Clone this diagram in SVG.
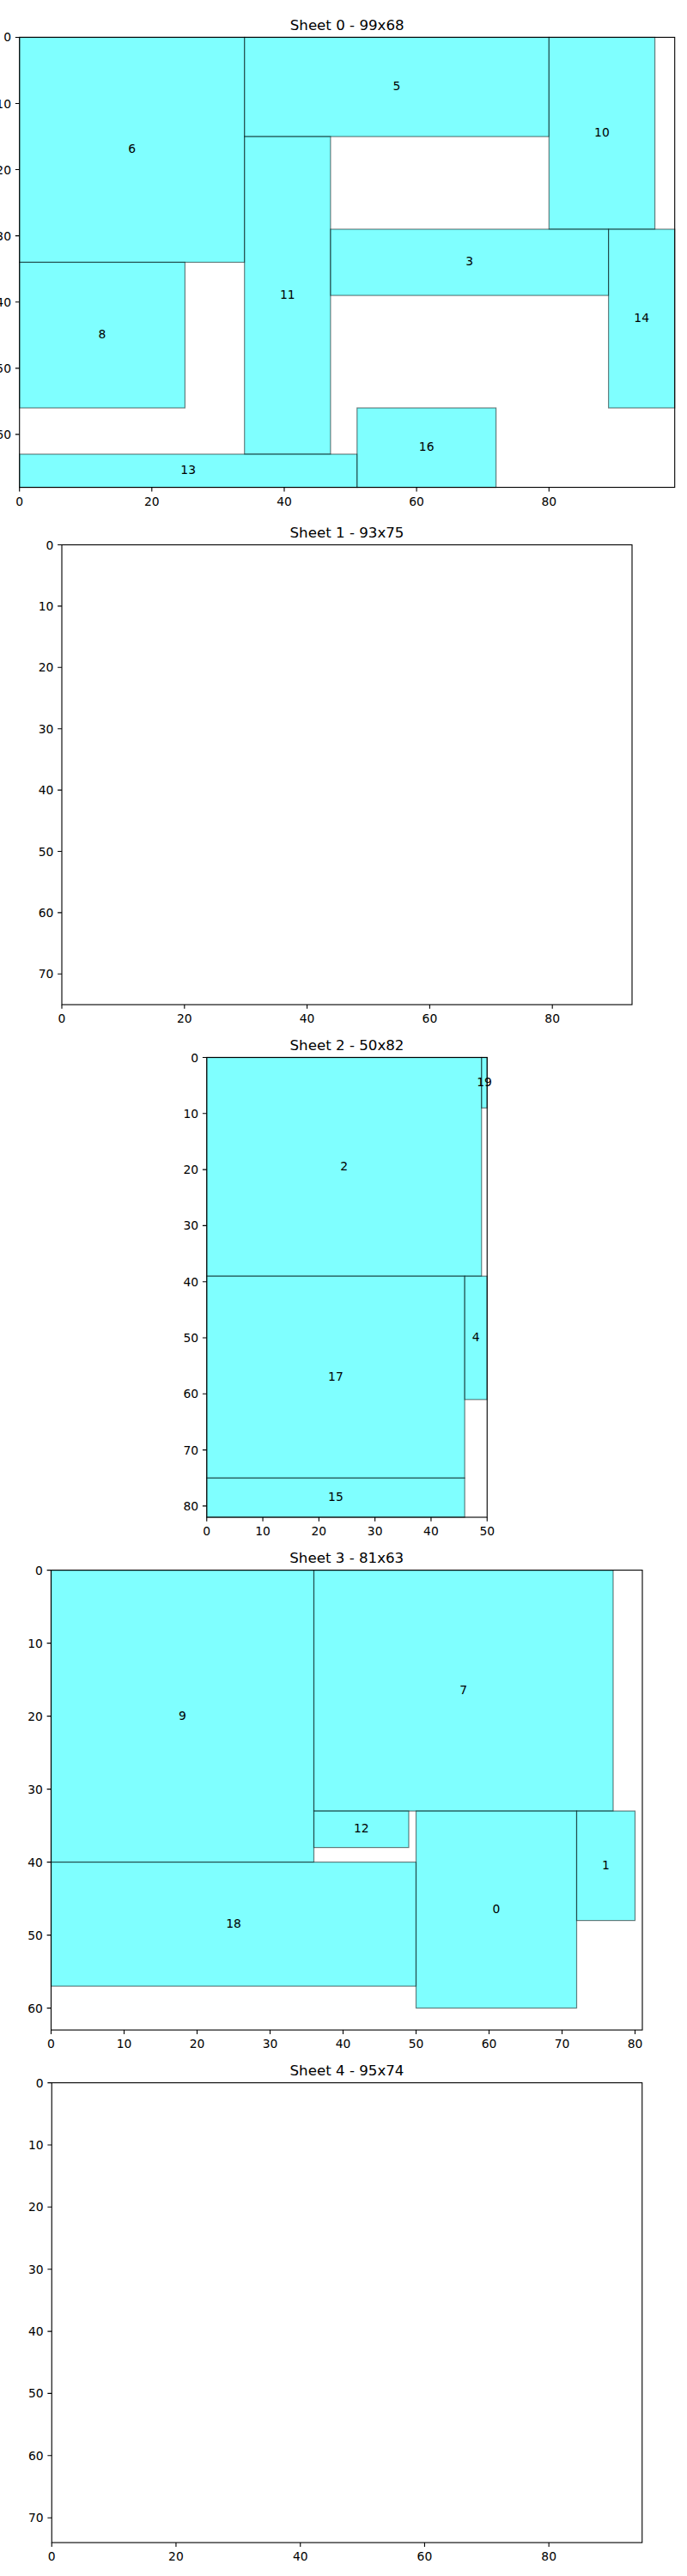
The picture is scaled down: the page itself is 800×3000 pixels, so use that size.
<svg xmlns="http://www.w3.org/2000/svg" width="800" height="3000" viewBox="0 0 800 3000">
<style>
text{font-family:"DejaVu Sans","Liberation Sans",sans-serif;fill:#000}
.t{font-size:16.67px;text-anchor:middle}
.xl{font-size:13.89px;text-anchor:middle}
.yl{font-size:13.89px;text-anchor:end}
.lb{font-size:13.89px;text-anchor:middle}
.r{fill:#00ffff;fill-opacity:0.5;stroke:#000;stroke-opacity:0.5;stroke-width:1.2}
.sp{fill:none;stroke:#000;stroke-width:1.11}
.tk{fill:none;stroke:#000;stroke-width:1.11}
</style>
<rect width="800" height="3000" fill="#fff"/>

<!-- Sheet 0 -->
<g id="sheet0" transform="translate(22.7,43.45)">
<text class="t" x="381.5" y="-8.3">Sheet 0 - 99x68</text>
<g id="p6"><rect class="r" x="0" y="0" width="262.0" height="262.0"/><text class="lb" x="131.0" y="135">6</text></g>
<g id="p5"><rect class="r" x="262.0" y="0" width="354.6" height="115.6"/><text class="lb" x="439.3" y="61.8">5</text></g>
<g id="p10"><rect class="r" x="616.6" y="0" width="123.3" height="223.5"/><text class="lb" x="678.2" y="115.8">10</text></g>
<g id="p11"><rect class="r" x="262.0" y="115.6" width="100.2" height="369.9"/><text class="lb" x="312.1" y="304.6">11</text></g>
<g id="p3"><rect class="r" x="362.2" y="223.5" width="323.7" height="77.1"/><text class="lb" x="524.1" y="266">3</text></g>
<g id="p14"><rect class="r" x="685.9" y="223.5" width="77.1" height="208.1"/><text class="lb" x="724.5" y="331.5">14</text></g>
<g id="p8"><rect class="r" x="0" y="262.0" width="192.7" height="169.6"/><text class="lb" x="96.3" y="350.8">8</text></g>
<g id="p13"><rect class="r" x="0" y="485.5" width="393.1" height="38.6"/><text class="lb" x="196.5" y="508.8">13</text></g>
<g id="p16"><rect class="r" x="393.1" y="431.6" width="161.8" height="92.5"/><text class="lb" x="474.0" y="481.8">16</text></g>
<rect class="sp" x="0" y="0" width="763.0" height="524.1"/>
<path class="tk" d="M0,524.1v4.86M154.1,524.1v4.86M308.3,524.1v4.86M462.4,524.1v4.86M616.6,524.1v4.86M0,0h-4.86M0,77.07h-4.86M0,154.1h-4.86M0,231.2h-4.86M0,308.3h-4.86M0,385.4h-4.86M0,462.4h-4.86"/>
<text class="xl" x="0" y="545.1">0</text><text class="xl" x="154.1" y="545.1">20</text><text class="xl" x="308.3" y="545.1">40</text><text class="xl" x="462.4" y="545.1">60</text><text class="xl" x="616.6" y="545.1">80</text>
<text class="yl" x="-9.7" y="5">0</text><text class="yl" x="-9.7" y="82.07">10</text><text class="yl" x="-9.7" y="159.1">20</text><text class="yl" x="-9.7" y="236.2">30</text><text class="yl" x="-9.7" y="313.3">40</text><text class="yl" x="-9.7" y="390.4">50</text><text class="yl" x="-9.7" y="467.4">60</text>
</g>

<!-- Sheet 1 -->
<g id="sheet1" transform="translate(72.0,634.5)">
<text class="t" x="332.0" y="-8.3">Sheet 1 - 93x75</text>
<rect class="sp" x="0" y="0" width="664.0" height="535.5"/>
<path class="tk" d="M0,535.5v4.86M142.8,535.5v4.86M285.6,535.5v4.86M428.4,535.5v4.86M571.2,535.5v4.86M0,0h-4.86M0,71.4h-4.86M0,142.8h-4.86M0,214.2h-4.86M0,285.6h-4.86M0,357h-4.86M0,428.4h-4.86M0,499.8h-4.86"/>
<text class="xl" x="0" y="556.5">0</text><text class="xl" x="142.8" y="556.5">20</text><text class="xl" x="285.6" y="556.5">40</text><text class="xl" x="428.4" y="556.5">60</text><text class="xl" x="571.2" y="556.5">80</text>
<text class="yl" x="-9.7" y="5">0</text><text class="yl" x="-9.7" y="76.4">10</text><text class="yl" x="-9.7" y="147.8">20</text><text class="yl" x="-9.7" y="219.2">30</text><text class="yl" x="-9.7" y="290.6">40</text><text class="yl" x="-9.7" y="362">50</text><text class="yl" x="-9.7" y="433.4">60</text><text class="yl" x="-9.7" y="504.8">70</text>
</g>

<!-- Sheet 2 -->
<g id="sheet2" transform="translate(240.75,1231.5)">
<text class="t" x="163.25" y="-8.3">Sheet 2 - 50x82</text>
<g id="p2"><rect class="r" x="0" y="0" width="320.0" height="254.7"/><text class="lb" x="160.0" y="131.3">2</text></g>
<g id="p19"><rect class="r" x="320.0" y="0" width="6.5" height="58.8"/><text class="lb" x="323.3" y="33.4">19</text></g>
<g id="p17"><rect class="r" x="0" y="254.7" width="300.4" height="235.1"/><text class="lb" x="150.2" y="376.2">17</text></g>
<g id="p4"><rect class="r" x="300.4" y="254.7" width="26.1" height="143.7"/><text class="lb" x="313.5" y="330.5">4</text></g>
<g id="p15"><rect class="r" x="0" y="489.8" width="300.4" height="45.7"/><text class="lb" x="150.2" y="516.6">15</text></g>
<rect class="sp" x="0" y="0" width="326.5" height="535.5"/>
<path class="tk" d="M0,535.5v4.86M65.3,535.5v4.86M130.6,535.5v4.86M195.9,535.5v4.86M261.2,535.5v4.86M326.5,535.5v4.86M0,0h-4.86M0,65.3h-4.86M0,130.6h-4.86M0,195.9h-4.86M0,261.2h-4.86M0,326.5h-4.86M0,391.8h-4.86M0,457.1h-4.86M0,522.4h-4.86"/>
<text class="xl" x="0" y="556.5">0</text><text class="xl" x="65.3" y="556.5">10</text><text class="xl" x="130.6" y="556.5">20</text><text class="xl" x="195.9" y="556.5">30</text><text class="xl" x="261.2" y="556.5">40</text><text class="xl" x="326.5" y="556.5">50</text>
<text class="yl" x="-9.7" y="5">0</text><text class="yl" x="-9.7" y="70.3">10</text><text class="yl" x="-9.7" y="135.6">20</text><text class="yl" x="-9.7" y="200.9">30</text><text class="yl" x="-9.7" y="266.2">40</text><text class="yl" x="-9.7" y="331.5">50</text><text class="yl" x="-9.7" y="396.8">60</text><text class="yl" x="-9.7" y="462.1">70</text><text class="yl" x="-9.7" y="527.4">80</text>
</g>

<!-- Sheet 3 -->
<g id="sheet3" transform="translate(59.5,1828.6)">
<text class="t" x="344.25" y="-8.3">Sheet 3 - 81x63</text>
<g id="p9"><rect class="r" x="0" y="0" width="306" height="340"/><text class="lb" x="153" y="174">9</text></g>
<g id="p7"><rect class="r" x="306" y="0" width="348.5" height="280.5"/><text class="lb" x="480.25" y="144.25">7</text></g>
<g id="p12"><rect class="r" x="306" y="280.5" width="110.5" height="42.5"/><text class="lb" x="361.25" y="305.75">12</text></g>
<g id="p18"><rect class="r" x="0" y="340" width="425" height="144.5"/><text class="lb" x="212.5" y="416.25">18</text></g>
<g id="p0"><rect class="r" x="425" y="280.5" width="187" height="229.5"/><text class="lb" x="518.5" y="399.25">0</text></g>
<g id="p1"><rect class="r" x="612" y="280.5" width="68" height="127.5"/><text class="lb" x="646" y="348.25">1</text></g>
<rect class="sp" x="0" y="0" width="688.5" height="535.5"/>
<path class="tk" d="M0,535.5v4.86M85,535.5v4.86M170,535.5v4.86M255,535.5v4.86M340,535.5v4.86M425,535.5v4.86M510,535.5v4.86M595,535.5v4.86M680,535.5v4.86M0,0h-4.86M0,85h-4.86M0,170h-4.86M0,255h-4.86M0,340h-4.86M0,425h-4.86M0,510h-4.86"/>
<text class="xl" x="0" y="556.5">0</text><text class="xl" x="85" y="556.5">10</text><text class="xl" x="170" y="556.5">20</text><text class="xl" x="255" y="556.5">30</text><text class="xl" x="340" y="556.5">40</text><text class="xl" x="425" y="556.5">50</text><text class="xl" x="510" y="556.5">60</text><text class="xl" x="595" y="556.5">70</text><text class="xl" x="680" y="556.5">80</text>
<text class="yl" x="-9.7" y="5">0</text><text class="yl" x="-9.7" y="90">10</text><text class="yl" x="-9.7" y="175">20</text><text class="yl" x="-9.7" y="260">30</text><text class="yl" x="-9.7" y="345">40</text><text class="yl" x="-9.7" y="430">50</text><text class="yl" x="-9.7" y="515">60</text>
</g>

<!-- Sheet 4 -->
<g id="sheet4" transform="translate(60.25,2425.6)">
<text class="t" x="343.75" y="-8.3">Sheet 4 - 95x74</text>
<rect class="sp" x="0" y="0" width="687.5" height="535.5"/>
<path class="tk" d="M0,535.5v4.86M144.7,535.5v4.86M289.5,535.5v4.86M434.2,535.5v4.86M578.9,535.5v4.86M0,0h-4.86M0,72.4h-4.86M0,144.7h-4.86M0,217.1h-4.86M0,289.5h-4.86M0,361.8h-4.86M0,434.2h-4.86M0,506.6h-4.86"/>
<text class="xl" x="0" y="556.5">0</text><text class="xl" x="144.7" y="556.5">20</text><text class="xl" x="289.5" y="556.5">40</text><text class="xl" x="434.2" y="556.5">60</text><text class="xl" x="578.9" y="556.5">80</text>
<text class="yl" x="-9.7" y="5">0</text><text class="yl" x="-9.7" y="77.4">10</text><text class="yl" x="-9.7" y="149.7">20</text><text class="yl" x="-9.7" y="222.1">30</text><text class="yl" x="-9.7" y="294.5">40</text><text class="yl" x="-9.7" y="366.8">50</text><text class="yl" x="-9.7" y="439.2">60</text><text class="yl" x="-9.7" y="511.6">70</text>
</g>
</svg>
